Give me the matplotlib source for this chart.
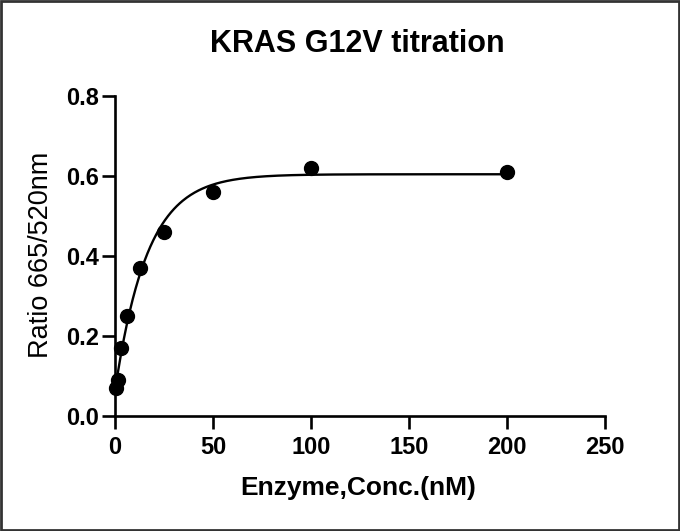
import numpy as np
import matplotlib
matplotlib.use('Agg')
import matplotlib.pyplot as plt
from matplotlib.patches import Rectangle

# KRAS G12V titration, 2-fold dilution of enzyme
conc = [0.39, 1.56, 3.125, 6.25, 12.5, 25, 50, 100, 200]
ratio = [0.07, 0.09, 0.17, 0.25, 0.37, 0.46, 0.56, 0.62, 0.61]

x = np.array(conc)
y = np.array(ratio)

# one-phase association fit: y = y0 + (plateau - y0) * (1 - exp(-k x))
best = None
for k in np.linspace(0.005, 0.3, 3000):
    A = np.column_stack([np.exp(-k * x), 1 - np.exp(-k * x)])
    coef, res, _, _ = np.linalg.lstsq(A, y, rcond=None)
    err = np.sum((A @ coef - y) ** 2)
    if best is None or err < best[0]:
        best = (err, k, coef)
_, k, (y0, plateau) = best
xf = np.linspace(0, 200, 400)
yf = y0 * np.exp(-k * xf) + plateau * (1 - np.exp(-k * xf))

plt.rcParams['font.family'] = ['Liberation Sans', 'DejaVu Sans']
plt.rcParams['font.weight'] = 'bold'

W, H = 680, 531
fig = plt.figure(figsize=(6.8, 5.31), dpi=100)
ax = fig.add_axes([115/W, 1-416/H, (605-115)/W, (416-96)/H])

ax.plot(xf, yf, color='black', lw=1.7, zorder=2)
ax.plot(x, y, 'o', color='black', ms=10, zorder=3, clip_on=False)

ax.set_xlim(0, 250)
ax.set_ylim(0, 0.8)
ax.set_xticks([0, 50, 100, 150, 200, 250])
ax.set_yticks([0.0, 0.2, 0.4, 0.6, 0.8])
ax.set_yticklabels(['0.0', '0.2', '0.4', '0.6', '0.8'])
for s in ['top', 'right']:
    ax.spines[s].set_visible(False)
for s in ['left', 'bottom']:
    ax.spines[s].set_linewidth(1.9)
ax.tick_params(direction='out', length=9.5, width=1.9, labelsize=17)
ax.tick_params(axis='x', pad=5)
ax.tick_params(axis='y', pad=2)
for lab in ax.get_xticklabels() + ax.get_yticklabels():
    lab.set_fontweight('bold')

fig.text(357/W, 1-52/H, 'KRAS G12V titration', ha='center', va='baseline',
         fontsize=22, fontweight='bold')
fig.text(358/W, 1-495/H, 'Enzyme,Conc.(nM)', ha='center', va='baseline',
         fontsize=19, fontweight='bold')
fig.text(41/W, 1-255/H, 'Ratio 665/520nm', ha='center', va='center',
         rotation=90, fontsize=19.5, fontweight='normal')

fig.patches.append(Rectangle((0.002, 0.002), 0.996, 0.996, transform=fig.transFigure,
                             fill=False, edgecolor='#333333', lw=2))

fig.savefig('out.png', dpi=100)
